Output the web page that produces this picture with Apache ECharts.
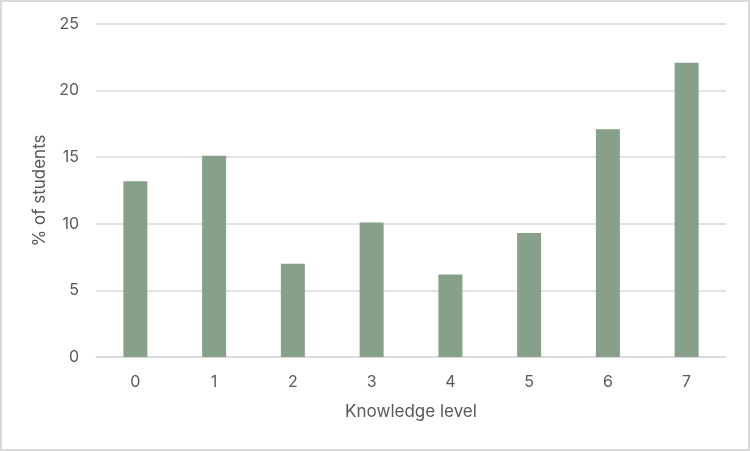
<!DOCTYPE html>
<html>
<head>
<meta charset="utf-8">
<script src="https://cdn.jsdelivr.net/npm/echarts@6/dist/echarts.min.js"></script>
<style>
  html, body { margin: 0; padding: 0; background: #fff; }
  #main { width: 746px; height: 447px; border: 2px solid #d9d9d9; }
</style>
</head>
<body>
<div id="main"></div>
<script>
var levels = ['0', '1', '2', '3', '4', '5', '6', '7'];
var percents = [13.2, 15.1, 7.0, 10.1, 6.2, 9.3, 17.1, 22.1];
var yTicks = [0, 5, 10, 15, 20, 25];

var myChart = echarts.init(document.getElementById('main'));
var fontFam = 'Inter, "Noto Sans", sans-serif';
var option = {
    animation: false,
    grid: { left: 94, right: 22, top: 22, bottom: 92 },
    xAxis: {
        type: 'category',
        data: levels,
        name: 'Knowledge level',
        nameLocation: 'middle',
        nameGap: 46,
        nameTextStyle: { color: '#595959', fontSize: 17, fontFamily: fontFam },
        axisLine: { lineStyle: { color: '#d9d9d9', width: 1.5 } },
        axisTick: { show: false },
        axisLabel: { color: '#595959', fontSize: 16, margin: 17, fontFamily: fontFam }
    },
    yAxis: {
        type: 'value',
        min: yTicks[0],
        max: yTicks[yTicks.length - 1],
        interval: 5,
        name: '% of students',
        nameLocation: 'middle',
        nameGap: 45,
        nameTextStyle: { color: '#595959', fontSize: 17, fontFamily: fontFam },
        axisLine: { show: false },
        axisTick: { show: false },
        axisLabel: { color: '#595959', fontSize: 16, margin: 17, fontFamily: fontFam },
        splitLine: { lineStyle: { color: '#d9d9d9', width: 1.5 } }
    },
    series: [{
        type: 'bar',
        data: percents,
        barWidth: 24,
        itemStyle: { color: '#87a08a' }
    }]
};
myChart.setOption(option);
</script>
</body>
</html>
